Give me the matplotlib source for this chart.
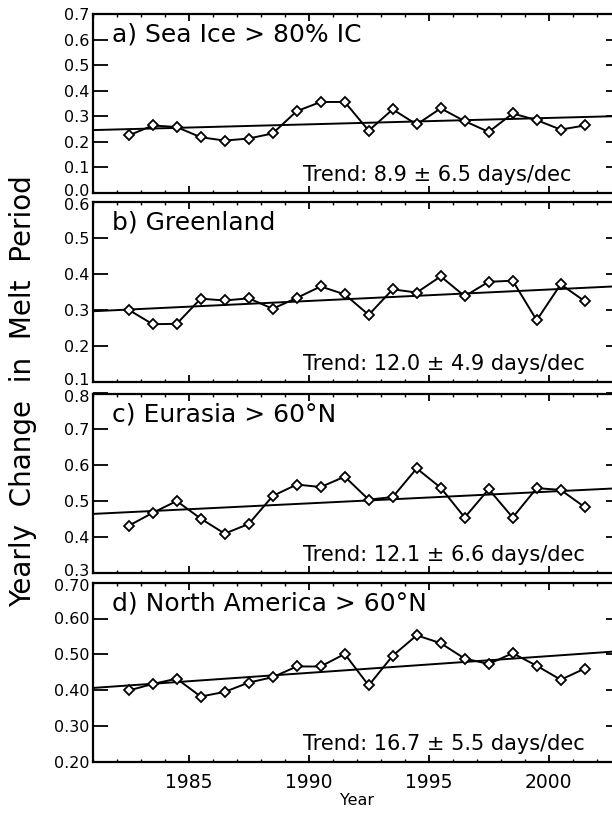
import matplotlib
matplotlib.use("Agg")
import matplotlib.pyplot as plt
from matplotlib.ticker import MultipleLocator, FormatStrFormatter
from matplotlib.transforms import ScaledTranslation

plt.rcParams['font.family'] = ['DejaVu Sans']

years = [1982.5 + i for i in range(20)]

sea_ice = [0.225, 0.264, 0.258, 0.218, 0.205, 0.213, 0.233, 0.320, 0.356, 0.356,
           0.244, 0.327, 0.268, 0.331, 0.281, 0.239, 0.311, 0.285, 0.248, 0.264]
greenland = [0.300, 0.260, 0.261, 0.331, 0.326, 0.332, 0.303, 0.333, 0.365, 0.343,
             0.286, 0.357, 0.348, 0.393, 0.338, 0.378, 0.381, 0.271, 0.371, 0.324]
eurasia = [0.431, 0.467, 0.500, 0.451, 0.409, 0.436, 0.514, 0.546, 0.539, 0.568,
           0.504, 0.511, 0.591, 0.537, 0.454, 0.533, 0.454, 0.536, 0.531, 0.483]
n_america = [0.399, 0.417, 0.432, 0.382, 0.395, 0.421, 0.436, 0.466, 0.466, 0.501,
             0.413, 0.496, 0.553, 0.531, 0.488, 0.473, 0.503, 0.468, 0.429, 0.460]

# trend line values at the start and end of the x range
trend_x = [1981, 2003]
trend_sea_ice = [0.246, 0.301]
trend_greenland = [0.296, 0.366]
trend_eurasia = [0.464, 0.536]
trend_n_america = [0.406, 0.509]

titles = ["a) Sea Ice > 80% IC", "b) Greenland", "c) Eurasia > 60°N", "d) North America > 60°N"]
trend_labels = ["Trend: 8.9 ± 6.5 days/dec", "Trend: 12.0 ± 4.9 days/dec",
                "Trend: 12.1 ± 6.6 days/dec", "Trend: 16.7 ± 5.5 days/dec"]
ylims = [(0.0, 0.7), (0.1, 0.6), (0.3, 0.8), (0.2, 0.7)]
yfmts = ["%.1f", "%.1f", "%.1f", "%.2f"]
series = [sea_ice, greenland, eurasia, n_america]
trends = [trend_sea_ice, trend_greenland, trend_eurasia, trend_n_america]

W, H = 612, 814
fig = plt.figure(figsize=(W / 100, H / 100), dpi=100)

left_px, right_px = 92.7, 620.7
panels_px = [(14, 193), (202, 381.7), (393.5, 572.7), (582.7, 761.7)]

axes = []
for i, (top, bot) in enumerate(panels_px):
    ax = fig.add_axes([left_px / W, 1 - bot / H, (right_px - left_px) / W, (bot - top) / H])
    ax.plot(years, series[i], color='black', lw=1.4, marker='D', ms=5.4,
            mfc='white', mec='black', mew=1.3, zorder=3)
    ax.plot(trend_x, trends[i], color='black', lw=1.4, zorder=2)
    ax.set_xlim(1981, 2003)
    ax.set_ylim(*ylims[i])
    ax.xaxis.set_major_locator(MultipleLocator(5))
    ax.xaxis.set_minor_locator(MultipleLocator(1))
    ax.yaxis.set_major_locator(MultipleLocator(0.1))
    ax.yaxis.set_major_formatter(FormatStrFormatter(yfmts[i]))
    ax.tick_params(axis='y', which='major', direction='in', length=11, width=1.3,
                   left=True, right=True, labelsize=11.5, pad=2.5)
    ax.tick_params(axis='x', which='major', direction='in', length=5, width=1.3,
                   top=True, bottom=True, labelsize=13.5, pad=8)
    ax.tick_params(axis='x', which='minor', direction='in', length=2.5, width=1.0,
                   top=True, bottom=True)
    for s in ax.spines.values():
        s.set_linewidth(1.6)
    if i < 3:
        ax.tick_params(axis='x', labelbottom=False)
    else:
        ax.set_xlabel("Year", fontsize=11.5, labelpad=1)
    ax.text(0.037, 0.885, titles[i], transform=ax.transAxes, fontsize=18,
            ha='left', va='center')
    ax.text(0.3985, 0.10, trend_labels[i], transform=ax.transAxes, fontsize=15,
            ha='left', va='center')
    axes.append(ax)

fig.text(0.037, 0.519, "Yearly  Change  in  Melt  Period", rotation=90,
         ha='center', va='center', fontsize=20)

# nudge the end tick labels slightly so neighbouring panels' labels don't collide
fig.canvas.draw()
for i, ax in enumerate(axes):
    lo, hi = ylims[i]
    for tick in ax.yaxis.get_major_ticks():
        loc = tick.get_loc()
        dy = 0
        if abs(loc - lo) < 1e-6 and i < 3:
            dy = 2.5
        elif abs(loc - hi) < 1e-6 and i > 0:
            dy = -2.5
        if dy:
            lab = tick.label1
            lab.set_transform(lab.get_transform() +
                              ScaledTranslation(0, dy / 100, fig.dpi_scale_trans))

fig.savefig("out.png", dpi=100)
